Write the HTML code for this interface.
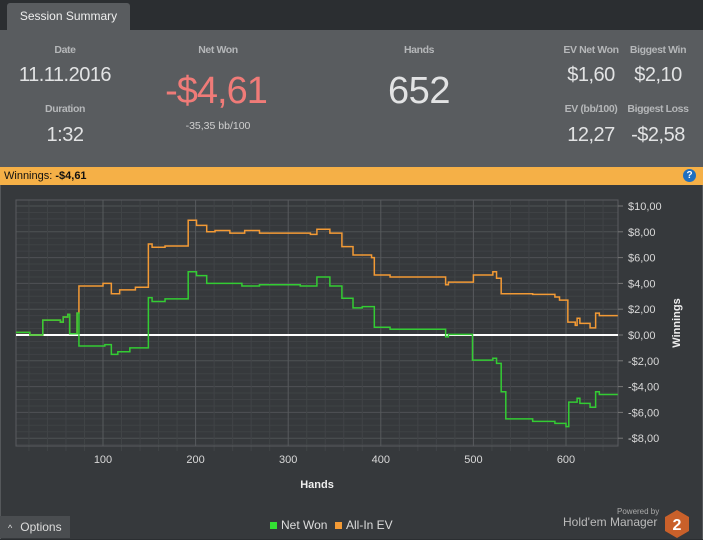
<!DOCTYPE html>
<html><head><meta charset="utf-8"><style>
body{margin:0;width:703px;height:540px;background:#2b2e31;font-family:"Liberation Sans",sans-serif;overflow:hidden;position:relative}
.a{position:absolute;white-space:nowrap}
.lbl{color:#b5b7b9;font-size:10.5px;font-weight:bold;transform:translateX(-50%);letter-spacing:-0.4px}
.val{color:#e2e3e4;font-size:20px;transform:translateX(-50%);letter-spacing:-0.5px}
</style></head><body>
<div class="a" style="left:7px;top:3px;width:123px;height:27px;background:#595c5f;border-radius:3px 3px 0 0;color:#eee;font-size:12px;line-height:27px;text-align:center">Session Summary</div>
<div class="a" style="left:0;top:30px;width:703px;height:137px;background:#595c5f"></div>
<div class="a lbl" style="left:65px;top:44px">Date</div>
<div class="a val" style="left:65px;top:64px">11.11.2016</div>
<div class="a lbl" style="left:65px;top:103px">Duration</div>
<div class="a val" style="left:65px;top:124px">1:32</div>
<div class="a lbl" style="left:218px;top:44px">Net Won</div>
<div class="a val" style="left:216px;top:70px;font-size:38px;color:#f07b78;letter-spacing:-1px">-$4,61</div>
<div class="a" style="left:218px;top:120px;transform:translateX(-50%);color:#d0d0d0;font-size:10.5px">-35,35 bb/100</div>
<div class="a lbl" style="left:419px;top:44px">Hands</div>
<div class="a val" style="left:419px;top:70px;font-size:38px">652</div>
<div class="a lbl" style="left:591px;top:44px">EV Net Won</div>
<div class="a val" style="left:591px;top:64px">$1,60</div>
<div class="a lbl" style="left:658px;top:44px">Biggest Win</div>
<div class="a val" style="left:658px;top:64px">$2,10</div>
<div class="a lbl" style="left:591px;top:103px">EV (bb/100)</div>
<div class="a val" style="left:591px;top:124px">12,27</div>
<div class="a lbl" style="left:658px;top:103px">Biggest Loss</div>
<div class="a val" style="left:658px;top:124px">-$2,58</div>
<div class="a" style="left:0;top:167px;width:703px;height:18px;background:#f5b047;font-size:11px;line-height:18px;color:#111"><span style="padding-left:4px">Winnings: <b>-$4,61</b></span></div>
<div class="a" style="left:683px;top:169px;width:13px;height:13px;border-radius:50%;background:#1f6fc0;color:#fff;font-size:10px;font-weight:bold;text-align:center;line-height:13px">?</div>
<div class="a" style="left:0;top:185px;width:701px;height:354px;background:#36393c;border-left:1px solid #55585b;border-right:1px solid #55585b"></div>
<svg class="a" style="left:0;top:0" width="703" height="540" id="svg"></svg>
<div class="a" style="left:0;top:516px;width:70px;height:22px;background:#4a4d50;color:#ddd;font-size:12px;line-height:22px"><span style="padding:0 8px;font-size:9px">^</span>Options</div>
<div class="a" style="left:270px;top:518px;color:#ddd;font-size:12px"><span style="display:inline-block;width:7px;height:7px;background:#33e033;margin-right:4px"></span>Net Won</div>
<div class="a" style="left:335px;top:518px;color:#ddd;font-size:12px"><span style="display:inline-block;width:7px;height:7px;background:#f39a35;margin-right:4px"></span>All-In EV</div>
<div class="a" style="left:617px;top:507px;color:#aaa;font-size:8px">Powered by</div>
<div class="a" style="left:563px;top:515px;color:#bbb;font-size:12px">Hold'em Manager</div>
<svg class="a" style="left:665px;top:510px" width="24" height="28"><polygon points="12,0 24,7 24,21 12,28 0,21 0,7" fill="#c9602a"/><text x="12" y="20" fill="#fff" font-size="16" font-weight="bold" text-anchor="middle" font-family="Liberation Sans">2</text></svg>
<script>
const netHands=[6,21,35,54,57,62,64,72,74,102,109,116,129,149,153,167,192,201,212,250,269,313,331,345,358,370,380,393,410,470,473,499,521,525,530,535,564,588,600,603,612,615,626,632,636,656];
const netValues=[0.2,0,1.15,1.0,1.4,1.6,0.1,1.7,-0.85,-0.75,-1.5,-1.3,-1.0,2.9,2.6,2.8,4.9,4.6,4.0,3.8,3.9,3.8,4.5,3.8,2.85,2.1,2.2,0.6,0.45,-0.15,0.05,-1.95,-1.8,-2.2,-4.4,-6.5,-6.7,-6.85,-7.1,-5.2,-4.9,-5.3,-5.6,-4.4,-4.61,-4.61];
const evHands=[6,21,35,54,57,62,64,72,74,100,109,118,135,149,153,167,192,201,212,221,237,253,269,324,331,345,358,370,390,393,410,470,473,500,521,525,530,564,588,593,602,610,612,615,626,632,636,656];
const evValues=[0.2,0,1.15,1.0,1.4,1.6,0.1,1.7,3.8,4.0,3.2,3.5,3.7,7.05,6.8,6.9,8.9,8.5,8.0,8.1,7.9,8.1,7.9,7.8,8.2,7.9,6.85,6.2,6.0,4.65,4.5,3.9,4.1,4.65,4.9,4.4,3.2,3.15,2.95,2.7,1.0,0.75,1.3,0.9,0.55,1.7,1.5,1.5];
const yTicks=[10,8,6,4,2,0,-2,-4,-6,-8];
const yTickLabels=["$10,00","$8,00","$6,00","$4,00","$2,00","$0,00","-$2,00","-$4,00","-$6,00","-$8,00"];
const xTicks=[100,200,300,400,500,600];
const L=16,R=618,T=200,B=446;
const x=h=>10.4+0.926*h, y=v=>335-12.9*v;
const svg=document.getElementById('svg');const NS='http://www.w3.org/2000/svg';
function mk(t,a,p){const e=document.createElementNS(NS,t);for(const k in a)e.setAttribute(k,a[k]);(p||svg).appendChild(e);return e;}
for(let v=-9;v<=10.5;v+=0.5){const yy=y(v);if(yy<T||yy>B)continue;const major=Math.abs(v%2)<0.01;const l=mk('line',{x1:L,x2:R,y1:yy,y2:yy,stroke:major?'#4f5255':'#3f4245','stroke-width':1});}
for(let h=20;h<=660;h+=20){const xx=x(h);if(xx>R)continue;const major=h%100===0;const l=mk('line',{x1:xx,x2:xx,y1:T,y2:B+(major?0:5),stroke:major?'#575a5d':'#414447','stroke-width':1});}
const fr=mk('rect',{x:L,y:T,width:R-L,height:B-T,fill:'none',stroke:'#595c5f'});

yTicks.forEach((v,i)=>{const t=mk('text',{x:R+10,y:y(v)+4,fill:'#d8d8d8','font-size':11,'font-family':'Liberation Sans'});t.textContent=yTickLabels[i];
const tk=mk('line',{x1:R,x2:R+5,y1:y(v),y2:y(v),stroke:'#777'});});
xTicks.forEach(h=>{const t=mk('text',{x:x(h),y:463,fill:'#d8d8d8','font-size':11,'text-anchor':'middle','font-family':'Liberation Sans'});t.textContent=h;});
const xt=mk('text',{x:317,y:488,fill:'#eee','font-size':11,'font-weight':'bold','text-anchor':'middle','font-family':'Liberation Sans'});xt.textContent='Hands';

const yt=mk('text',{x:0,y:0,fill:'#eee','font-size':11,'font-weight':'bold','text-anchor':'middle','font-family':'Liberation Sans',transform:'translate(680,323) rotate(-90)'});yt.textContent='Winnings';

const zl=mk('line',{x1:L,x2:R,y1:y(0),y2:y(0),stroke:'#fff','stroke-width':2});

function stepPath(hs,vs){let d='M'+Math.max(L,x(hs[0]))+' '+y(vs[0]);for(let i=1;i<hs.length;i++){d+=' H'+Math.min(R,x(hs[i]))+' V'+y(vs[i]);}return d;}
const ev=mk('path',{d:stepPath(evHands,evValues),fill:'none',stroke:'#f39a35','stroke-width':1.5});

const nw=mk('path',{d:stepPath(netHands,netValues),fill:'none',stroke:'#33cc33','stroke-width':1.5});

</script>
</body></html>
